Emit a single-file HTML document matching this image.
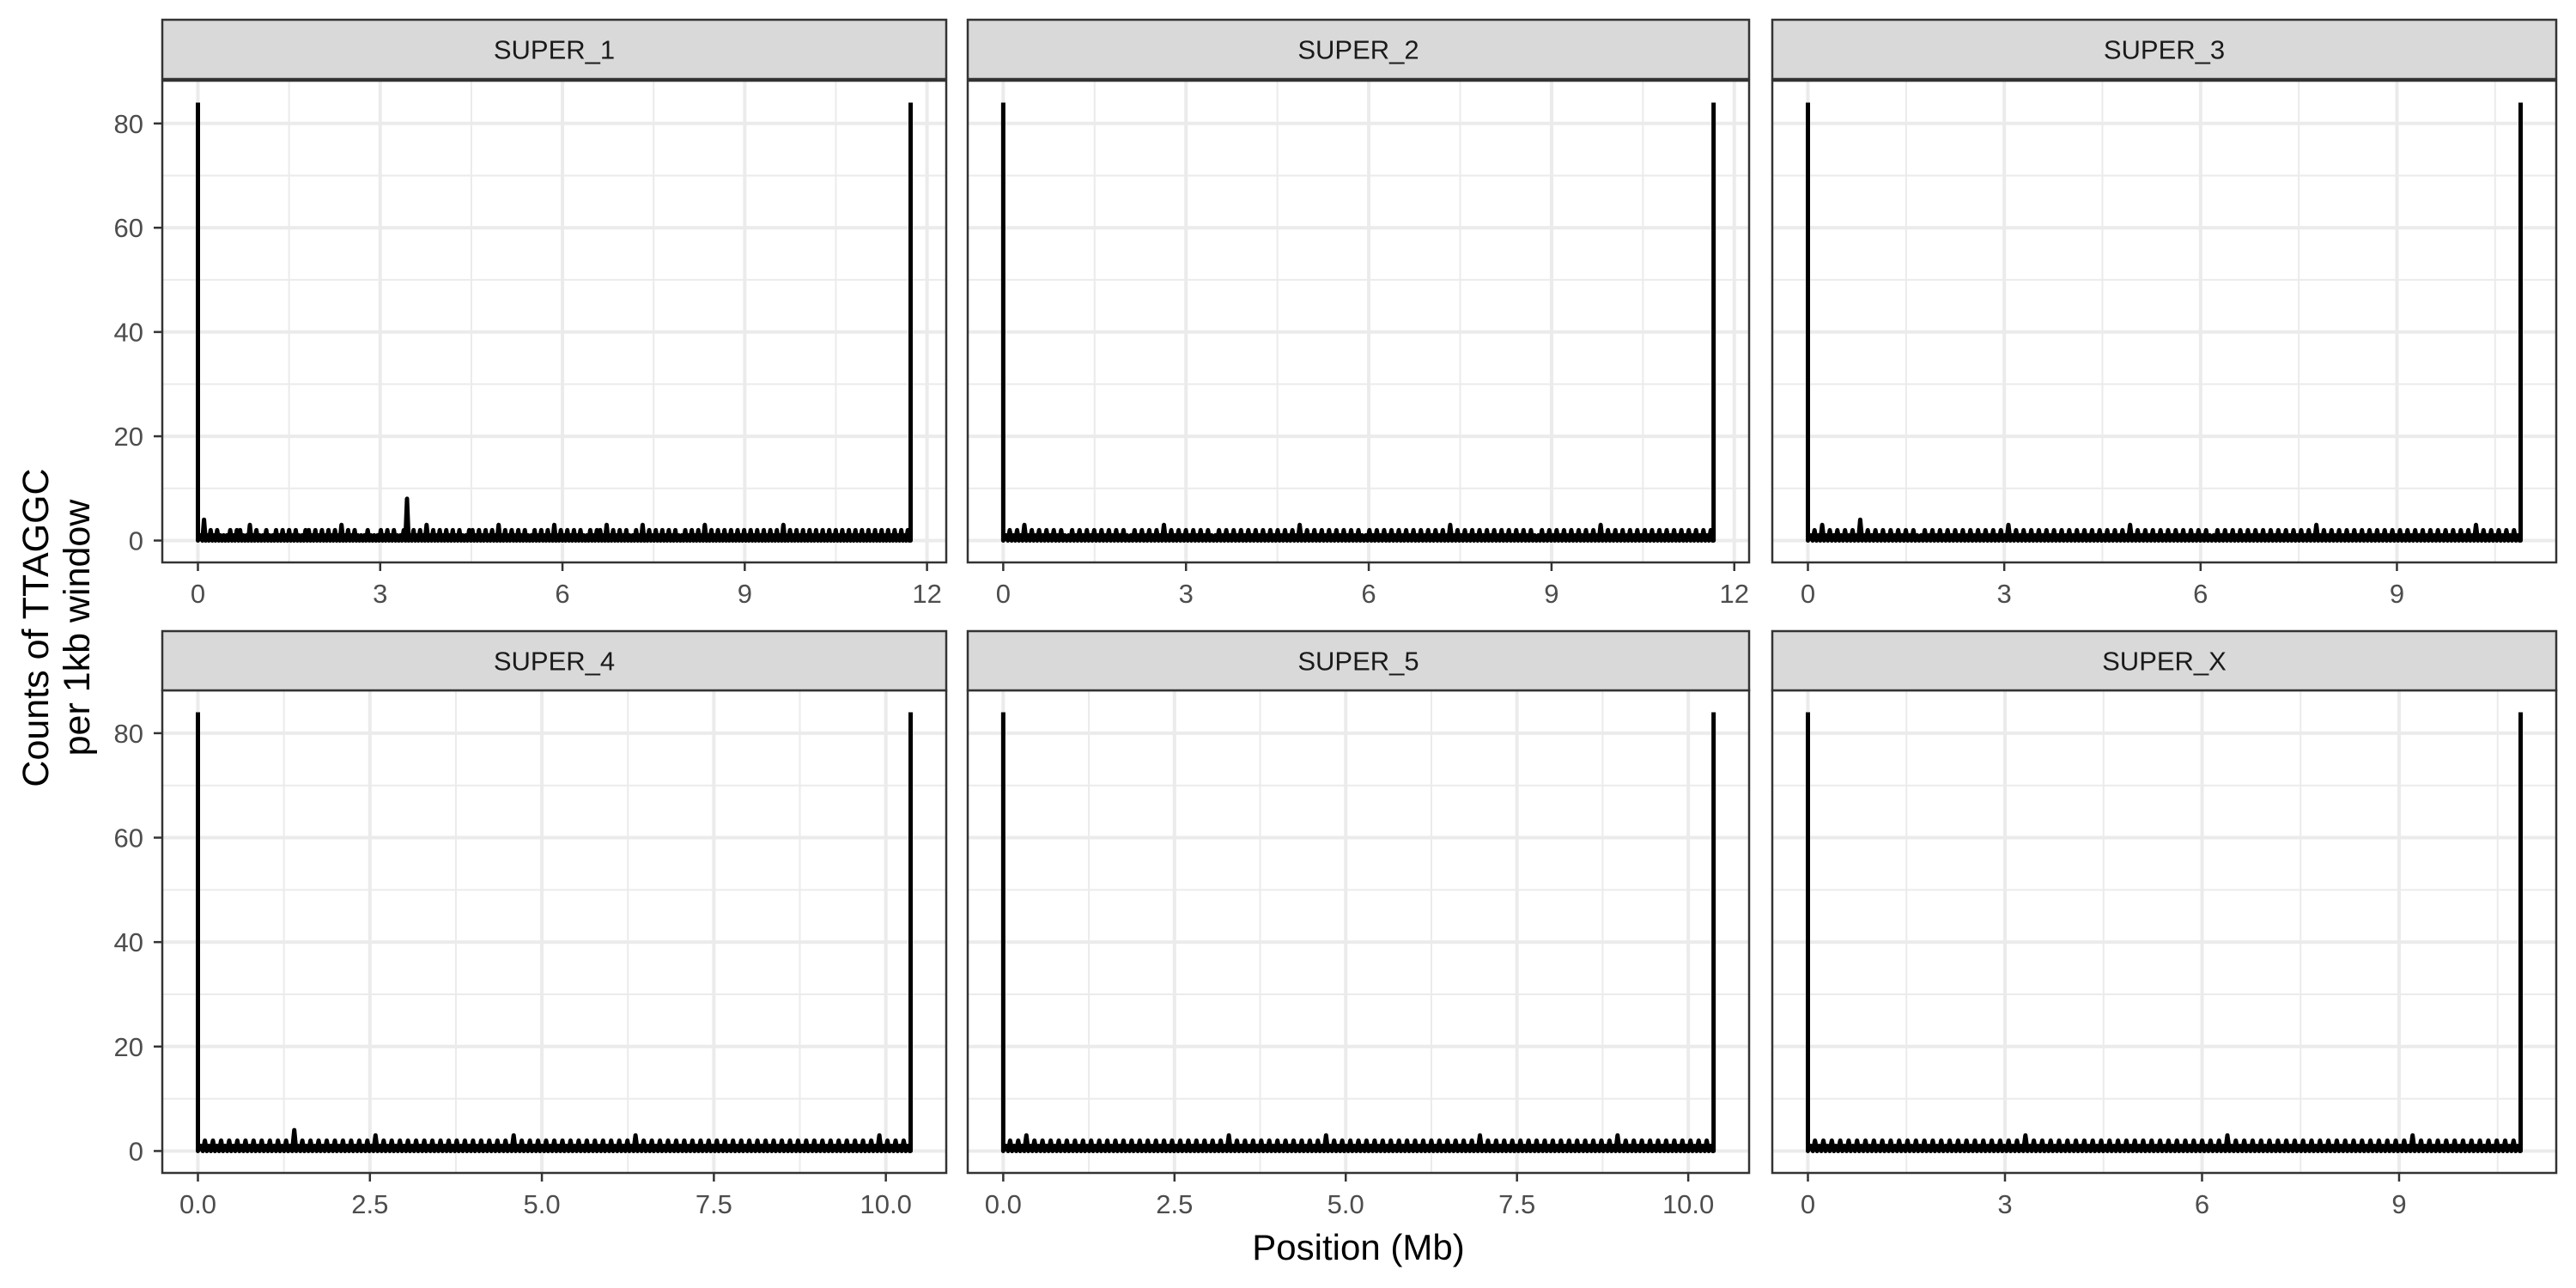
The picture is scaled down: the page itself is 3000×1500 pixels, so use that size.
<!DOCTYPE html>
<html><head><meta charset="utf-8"><style>
html,body{margin:0;padding:0;background:#fff}
svg{display:block}
text{font-family:"Liberation Sans",Arial,sans-serif}
</style></head><body>
<svg id="chart" width="3000" height="1500" viewBox="0 0 3000 1500"></svg>
<script>
const chromNames = ["SUPER_1","SUPER_2","SUPER_3","SUPER_4","SUPER_5","SUPER_X"];
const chromLengths = [11.73, 11.66, 10.89, 10.36, 10.37, 10.85];
const xBreaks = [[0,3,6,9,12],[0,3,6,9,12],[0,3,6,9],[0,2.5,5,7.5,10],[0,2.5,5,7.5,10],[0,3,6,9]];
const xTickLabels = [["0","3","6","9","12"],["0","3","6","9","12"],["0","3","6","9"],["0.0","2.5","5.0","7.5","10.0"],["0.0","2.5","5.0","7.5","10.0"],["0","3","6","9"]];
const yBreaks = [0,20,40,60,80];
const yTickLabels = ["0","20","40","60","80"];
const endValues = [84, 84];
const s1Counts = "1412121112122113121121121212121122121212121312121112111212121128121213121212121211221212121312121212112121213121212121121221312121211213121212121211212121312121212121212121212121312121212121212121212121212121212121212";
const s2Counts = "1212131212121212112121212121212121121212121312121212121211212121212121212121212131212121212121212112121212121212121212121312121212121212121212121121212121212121213121212121212121212121212121212";
const s3Counts = "1213121212121412121212121212112121212121212121212121312121212121212121212121212121213121212121212121212121121212121212121212121212121312121212121212121212121212121212121212121312121212121";
const s4Counts = "1212121212121212121212141212121212121212121312121212121212121212121212121212131212121212121212121212121212131212121212121212121212121212121212121212121212121212121212131212121";
const s5Counts = "1212131212121212121212121212121212121212121212121212121312121212121212121212121312121212121212121212121212121212121213121212121212121212121212121212121312121212121212121212121";
const sxCounts = "1212121212121212121212121212121212121212121212121213121212121212121212121212121212121212121212121213121212121212121212121212121212121212121212131212121212121212121212121";
const countSeries = [s1Counts, s2Counts, s3Counts, s4Counts, s5Counts, sxCounts].map(s => s.split('').map(Number));
const yMax = 84;

const NS = "http://www.w3.org/2000/svg";
const svg = document.getElementById('chart');
function mk(tag, attrs, parent) {
  const e = document.createElementNS(NS, tag);
  for (const k in attrs) e.setAttribute(k, attrs[k]);
  (parent || svg).appendChild(e);
  return e;
}
const colX = [[189,1102],[1127,2037],[2064,2977]];
const rowY = [{strip:[23,92], panel:[94,655]}, {strip:[735,804], panel:[804,1366]}];

chromNames.forEach((name, i) => {
  const c = i % 3, r = Math.floor(i / 3);
  const [x0, x1] = colX[c];
  const [py0, py1] = rowY[r].panel;
  const [sy0, sy1] = rowY[r].strip;
  const L = chromLengths[i];
  const w = x1 - x0, h = py1 - py0;
  const xScale = v => x0 + w / 22 + (v / L) * (w / 1.1);
  const yScale = v => py1 - h / 22 - (v / yMax) * (h / 1.1);
  const g = mk('g', {});
  
  
  mk('rect', {x:x0, y:py0, width:w, height:h, fill:'#fff'}, g);
  for (let k = 0; k < yBreaks.length - 1; k++) {
    const y = yScale((yBreaks[k] + yBreaks[k+1]) / 2);
    mk('line', {x1:x0, x2:x1, y1:y, y2:y, stroke:'#ebebeb', 'stroke-width':2}, g);
  }
  const xb = xBreaks[i];
  const step = xb[1] - xb[0];
  for (let v = xb[0] - step / 2; v <= L * 1.06 + step; v += step) {
    const x = xScale(v);
    if (x > x0 && x < x1) mk('line', {x1:x, x2:x, y1:py0, y2:py1, stroke:'#ebebeb', 'stroke-width':2}, g);
  }
  yBreaks.forEach(v => { const y = yScale(v); mk('line', {x1:x0, x2:x1, y1:y, y2:y, stroke:'#ebebeb', 'stroke-width':4}, g); });
  xb.forEach(v => { const x = xScale(v); if (x < x1) mk('line', {x1:x, x2:x, y1:py0, y2:py1, stroke:'#ebebeb', 'stroke-width':4}, g); });
  const vals = countSeries[i];
  const n = vals.length;
  const dpos = (L * 0.992) / (n - 1);
  let d = 'M' + xScale(0) + ',' + yScale(endValues[0]) + ' L' + xScale(0) + ',' + yScale(0);
  vals.forEach((v, j) => {
    const pos = 0.004 * L + j * dpos;
    d += ' L' + xScale(pos).toFixed(1) + ',' + yScale(v).toFixed(1);
    d += ' L' + xScale(pos + dpos / 2).toFixed(1) + ',' + yScale(0).toFixed(1);
  });
  d += ' L' + xScale(L) + ',' + yScale(0) + ' L' + xScale(L) + ',' + yScale(endValues[1]);
  const line = mk('path', {d:d, fill:'none', stroke:'#000', 'stroke-width':5, 'stroke-linejoin':'round'}, g);
  
  
  mk('rect', {x:x0, y:py0, width:w, height:h, fill:'none', stroke:'#333', 'stroke-width':2.5}, g);
  const strip = mk('rect', {x:x0, y:sy0, width:w, height:sy1 - sy0, fill:'#d9d9d9', stroke:'#333', 'stroke-width':2.5}, g);
  
  
  const st = mk('text', {x:(x0 + x1) / 2, y:(sy0 + sy1) / 2 + 11, 'text-anchor':'middle', 'font-size':31, fill:'#1a1a1a'}, g);
  st.textContent = name;
  
  
  xb.forEach((v, k) => {
    const x = xScale(v);
    mk('line', {x1:x, x2:x, y1:py1, y2:py1 + 10, stroke:'#333', 'stroke-width':2.5}, g);
    const t = mk('text', {x:x, y:py1 + 47, 'text-anchor':'middle', 'font-size':31, fill:'#4d4d4d'}, g);
    t.textContent = xTickLabels[i][k];
    
    
  });
  if (c === 0) {
    yBreaks.forEach((v, k) => {
      const y = yScale(v);
      mk('line', {x1:x0 - 10, x2:x0, y1:y, y2:y, stroke:'#333', 'stroke-width':2.5}, g);
      const t = mk('text', {x:x0 - 22, y:y + 11, 'text-anchor':'end', 'font-size':31, fill:'#4d4d4d'}, g);
      t.textContent = yTickLabels[k];
      
      
    });
  }
});
const xt = mk('text', {x:1582, y:1467, 'text-anchor':'middle', 'font-size':42, fill:'#000'});
xt.textContent = 'Position (Mb)';


const yt = mk('text', {transform:'translate(56,731) rotate(-90)', 'text-anchor':'middle', 'font-size':43, fill:'#000'});


const l1 = mk('tspan', {x:0, y:0}, yt); l1.textContent = 'Counts of TTAGGC';
const l2 = mk('tspan', {x:0, y:48}, yt); l2.textContent = 'per 1kb window';
</script>
</body></html>
